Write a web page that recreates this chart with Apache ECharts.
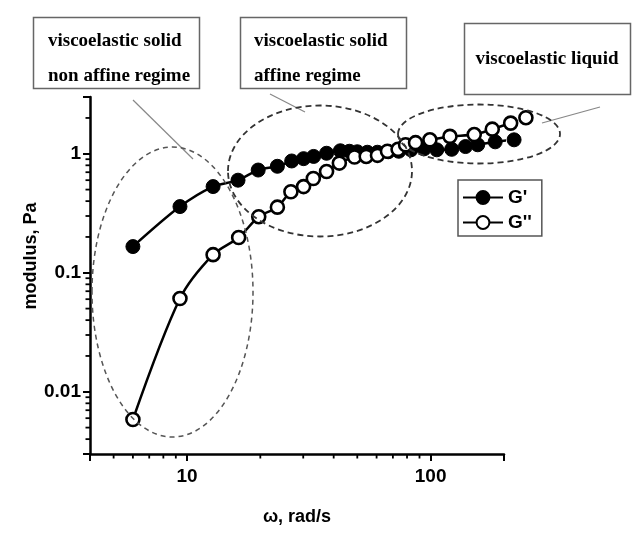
<!DOCTYPE html>
<html>
<head>
<meta charset="utf-8">
<script src="https://cdn.jsdelivr.net/npm/echarts@6/dist/echarts.min.js"></script>
<style>
html,body{margin:0;padding:0;background:#fff;}
#chart{width:639px;height:538px;}
</style>
</head>
<body>
<div id="chart"></div>
<script>
// ---- data ----
const gPrimeOmega = [6.0, 9.36, 12.8, 16.2, 19.6, 23.5, 26.9, 30.1, 33.1, 37.4, 42.6, 46.4, 50, 55, 60.5, 67, 74, 83, 94, 106, 122, 139, 156, 184, 220];
const gPrime      = [0.166, 0.36, 0.53, 0.60, 0.73, 0.785, 0.87, 0.91, 0.95, 1.01, 1.06, 1.05, 1.04, 1.03, 1.03, 1.04, 1.05, 1.08, 1.10, 1.08, 1.09, 1.15, 1.19, 1.26, 1.31];
const gDoubleOmega = [6.0, 9.36, 12.8, 16.3, 19.7, 23.5, 26.7, 30.1, 33.0, 37.4, 42.2, 48.7, 54.4, 60.5, 66.5, 73.5, 78.9, 86.7, 99.3, 120, 151, 179, 213, 246];
const gDouble      = [0.00585, 0.0608, 0.142, 0.198, 0.296, 0.356, 0.48, 0.53, 0.62, 0.71, 0.835, 0.94, 0.95, 0.97, 1.05, 1.09, 1.19, 1.24, 1.31, 1.40, 1.45, 1.61, 1.81, 2.01];
const seriesNames = ["G'", "G''"];

// ---- axes ----
const xMin = 4, xMax = 200;
const yMin = 0.003, yMax = 3;
const xTickLabels = [10, 100];
const yTickLabels = [0.01, 0.1, 1];
const xMinorTicks = [4, 5, 6, 7, 8, 9, 20, 30, 40, 50, 60, 70, 80, 90, 200];
const yMinorTicks = [0.003, 0.004, 0.005, 0.006, 0.007, 0.008, 0.009, 0.02, 0.03, 0.04, 0.05, 0.06, 0.07, 0.08, 0.09, 0.2, 0.3, 0.4, 0.5, 0.6, 0.7, 0.8, 0.9, 2, 3];
const xTitle = 'ω, rad/s';
const yTitle = 'modulus, Pa';
const notes = [
  ['viscoelastic solid', 'non affine regime'],
  ['viscoelastic solid', 'affine regime'],
  ['viscoelastic liquid']
];

function fmt(v, list) {
  const t = list.find(t => Math.abs(Math.log10(v) - Math.log10(t)) < 1e-6);
  return t === undefined ? '' : String(t);
}

const chart = echarts.init(document.getElementById('chart'), null, {renderer: 'canvas'});
const sansBold = {fontFamily: 'Liberation Sans, Arial, sans-serif', fontWeight: 'bold', color: '#000'};
const serifBold = {fontFamily: 'Liberation Serif, Times New Roman, serif', fontWeight: 'bold', fontSize: 19, fill: '#000'};

const option = {
  animation: false,
  backgroundColor: '#fff',
  grid: {left: 90, right: 135, top: 97, bottom: 84, containLabel: false, outerBoundsMode: 'none'},
  legend: {
    data: seriesNames,
    orient: 'vertical',
    left: 458, top: 180,
    padding: [8, 10, 4, 4],
    itemWidth: 40, itemHeight: 16, itemGap: 6,
    borderColor: '#555', borderWidth: 1.5,
    textStyle: Object.assign({fontSize: 19}, sansBold),
    selectedMode: false
  },
  xAxis: {
    type: 'log', logBase: 10, min: xMin, max: xMax,
    name: xTitle, nameLocation: 'middle', nameGap: 54,
    nameTextStyle: Object.assign({fontSize: 18}, sansBold),
    axisLine: {show: true, onZero: false, lineStyle: {color: '#000', width: 2.5}},
    axisTick: {show: true, length: 7, lineStyle: {color: '#000', width: 2}},
    minorTick: {show: false},
    splitLine: {show: false},
    axisLabel: Object.assign({fontSize: 19, margin: 13, formatter: v => fmt(v, xTickLabels)}, sansBold)
  },
  yAxis: {
    type: 'log', logBase: 10, min: yMin, max: yMax,
    axisLine: {show: true, onZero: false, lineStyle: {color: '#000', width: 2.5}},
    axisTick: {show: true, length: 7, lineStyle: {color: '#000', width: 2}},
    minorTick: {show: false},
    splitLine: {show: false},
    axisLabel: Object.assign({fontSize: 19, margin: 9, formatter: v => fmt(v, yTickLabels)}, sansBold)
  },
  series: [
    {
      name: seriesNames[0], type: 'line', clip: false,
      data: gPrimeOmega.map((w, i) => [w, gPrime[i]]),
      smooth: 0.3,
      symbol: 'circle', symbolSize: 14,
      lineStyle: {color: '#000', width: 2.5},
      itemStyle: {color: '#000', borderColor: '#000', borderWidth: 1},
      z: 3
    },
    {
      name: seriesNames[1], type: 'line', clip: false,
      data: gDoubleOmega.map((w, i) => [w, gDouble[i]]),
      smooth: 0.3,
      symbol: 'circle', symbolSize: 13,
      lineStyle: {color: '#000', width: 2.5},
      itemStyle: {color: '#fff', borderColor: '#000', borderWidth: 2.6},
      z: 4
    },
    {
      type: 'custom', silent: true, clip: false, z: 5,
      data: xMinorTicks.map(v => [v, yMin]),
      renderItem: (params, api) => {
        const p = api.coord([api.value(0), api.value(1)]);
        return {type: 'line', shape: {x1: p[0], y1: p[1], x2: p[0], y2: p[1] + 4.5}, style: {stroke: '#000', lineWidth: 1.8}};
      }
    },
    {
      type: 'custom', silent: true, clip: false, z: 5,
      data: yMinorTicks.map(v => [xMin, v]),
      renderItem: (params, api) => {
        const p = api.coord([api.value(0), api.value(1)]);
        return {type: 'line', shape: {x1: p[0], y1: p[1], x2: p[0] - 4.5, y2: p[1]}, style: {stroke: '#000', lineWidth: 1.8}};
      }
    }
  ],
  graphic: [
    // y axis title
    {type: 'text', x: 31, y: 256, rotation: Math.PI / 2,
     style: {text: yTitle, font: 'bold 18px "Liberation Sans", Arial, sans-serif', fill: '#000', align: 'center', verticalAlign: 'middle'}},
    // annotation boxes
    {type: 'rect', shape: {x: 33.5, y: 17.5, width: 166, height: 71}, style: {fill: '#fff', stroke: '#666', lineWidth: 1.5}},
    {type: 'rect', shape: {x: 240.5, y: 17.5, width: 166, height: 71}, style: {fill: '#fff', stroke: '#666', lineWidth: 1.5}},
    {type: 'rect', shape: {x: 464.5, y: 23.5, width: 166, height: 71}, style: {fill: '#fff', stroke: '#666', lineWidth: 1.5}},
    {type: 'text', x: 48, y: 41, style: Object.assign({text: notes[0][0], verticalAlign: 'middle'}, serifBold)},
    {type: 'text', x: 48, y: 76, style: Object.assign({text: notes[0][1], verticalAlign: 'middle'}, serifBold)},
    {type: 'text', x: 254, y: 41, style: Object.assign({text: notes[1][0], verticalAlign: 'middle'}, serifBold)},
    {type: 'text', x: 254, y: 76, style: Object.assign({text: notes[1][1], verticalAlign: 'middle'}, serifBold)},
    {type: 'text', x: 547, y: 59, style: Object.assign({text: notes[2][0], verticalAlign: 'middle', align: 'center'}, serifBold)},
    // leader lines
    {type: 'line', shape: {x1: 133, y1: 100, x2: 193, y2: 159}, style: {stroke: '#888', lineWidth: 1.2}},
    {type: 'line', shape: {x1: 270, y1: 94, x2: 305, y2: 112}, style: {stroke: '#888', lineWidth: 1.2}},
    {type: 'line', shape: {x1: 600, y1: 107, x2: 542, y2: 123}, style: {stroke: '#888', lineWidth: 1.2}},
    // regime ellipses
    {type: 'ellipse', z: 10, shape: {cx: 172.5, cy: 292, rx: 80.5, ry: 145}, style: {fill: 'none', stroke: '#555', lineWidth: 1.5, lineDash: [5, 4]}},
    {type: 'ellipse', z: 10, shape: {cx: 320, cy: 171, rx: 92, ry: 65.5}, style: {fill: 'none', stroke: '#333', lineWidth: 1.8, lineDash: [6, 4]}},
    {type: 'ellipse', z: 10, shape: {cx: 479, cy: 134, rx: 81, ry: 29.5}, style: {fill: 'none', stroke: '#333', lineWidth: 1.8, lineDash: [6, 4]}}
  ]
};
chart.setOption(option);
</script>
</body>
</html>
